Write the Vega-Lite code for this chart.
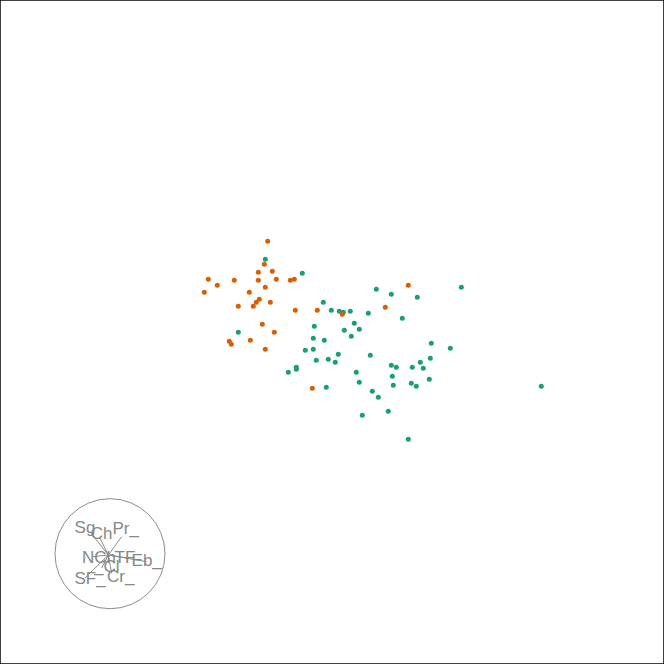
{
  "$schema": "https://vega.github.io/schema/vega-lite/v6.json",
  "width": 664,
  "height": 664,
  "autosize": {"type": "fit", "contains": "padding"},
  "padding": 0,
  "background": "white",
  "config": {"view": {"stroke": "black", "strokeWidth": 1.5}},
  "datasets": {
    "pts": [
      {"x": 265.3, "y": 404.7, "g": "B"},
      {"x": 302.3, "y": 390.7, "g": "B"},
      {"x": 238.3, "y": 331.7, "g": "B"},
      {"x": 376.3, "y": 374.7, "g": "B"},
      {"x": 391.3, "y": 369.7, "g": "B"},
      {"x": 417.3, "y": 366.7, "g": "B"},
      {"x": 461.3, "y": 376.7, "g": "B"},
      {"x": 323.3, "y": 361.7, "g": "B"},
      {"x": 331.3, "y": 353.7, "g": "B"},
      {"x": 339.3, "y": 352.7, "g": "B"},
      {"x": 343.3, "y": 351.7, "g": "B"},
      {"x": 350.3, "y": 352.7, "g": "B"},
      {"x": 368.3, "y": 350.7, "g": "B"},
      {"x": 402.3, "y": 345.7, "g": "B"},
      {"x": 314.3, "y": 337.7, "g": "B"},
      {"x": 354.3, "y": 340.7, "g": "B"},
      {"x": 344.3, "y": 333.7, "g": "B"},
      {"x": 359.3, "y": 334.7, "g": "B"},
      {"x": 351.3, "y": 327.7, "g": "B"},
      {"x": 313.3, "y": 325.7, "g": "B"},
      {"x": 324.3, "y": 323.7, "g": "B"},
      {"x": 431.3, "y": 320.7, "g": "B"},
      {"x": 450.3, "y": 315.7, "g": "B"},
      {"x": 305.3, "y": 313.7, "g": "B"},
      {"x": 313.3, "y": 314.7, "g": "B"},
      {"x": 338.3, "y": 309.7, "g": "B"},
      {"x": 370.3, "y": 308.7, "g": "B"},
      {"x": 430.3, "y": 305.7, "g": "B"},
      {"x": 316.3, "y": 303.7, "g": "B"},
      {"x": 328.3, "y": 304.7, "g": "B"},
      {"x": 335.3, "y": 301.7, "g": "B"},
      {"x": 420.3, "y": 301.7, "g": "B"},
      {"x": 391.3, "y": 298.7, "g": "B"},
      {"x": 396.3, "y": 296.7, "g": "B"},
      {"x": 412.3, "y": 296.7, "g": "B"},
      {"x": 423.3, "y": 295.7, "g": "B"},
      {"x": 288.3, "y": 291.7, "g": "B"},
      {"x": 296.3, "y": 296.7, "g": "B"},
      {"x": 296.3, "y": 294.7, "g": "B"},
      {"x": 356.3, "y": 291.7, "g": "B"},
      {"x": 392.3, "y": 287.7, "g": "B"},
      {"x": 429.3, "y": 284.7, "g": "B"},
      {"x": 359.3, "y": 281.7, "g": "B"},
      {"x": 393.3, "y": 278.7, "g": "B"},
      {"x": 411.3, "y": 280.7, "g": "B"},
      {"x": 416.3, "y": 277.7, "g": "B"},
      {"x": 541.3, "y": 277.7, "g": "B"},
      {"x": 326.3, "y": 276.7, "g": "B"},
      {"x": 372.3, "y": 272.7, "g": "B"},
      {"x": 378.3, "y": 266.7, "g": "B"},
      {"x": 388.3, "y": 252.7, "g": "B"},
      {"x": 362.3, "y": 248.7, "g": "B"},
      {"x": 408.3, "y": 224.7, "g": "B"},
      {"x": 267.7, "y": 422.7, "g": "A"},
      {"x": 264.3, "y": 399.7, "g": "A"},
      {"x": 258.3, "y": 391.7, "g": "A"},
      {"x": 272.3, "y": 392.7, "g": "A"},
      {"x": 208.3, "y": 384.7, "g": "A"},
      {"x": 217.3, "y": 378.7, "g": "A"},
      {"x": 234.3, "y": 383.7, "g": "A"},
      {"x": 258.3, "y": 383.7, "g": "A"},
      {"x": 276.3, "y": 384.7, "g": "A"},
      {"x": 290.3, "y": 383.7, "g": "A"},
      {"x": 294.3, "y": 384.7, "g": "A"},
      {"x": 204.3, "y": 371.7, "g": "A"},
      {"x": 249.3, "y": 371.7, "g": "A"},
      {"x": 265.3, "y": 376.7, "g": "A"},
      {"x": 259.3, "y": 364.7, "g": "A"},
      {"x": 256.3, "y": 361.7, "g": "A"},
      {"x": 253.3, "y": 357.7, "g": "A"},
      {"x": 270.3, "y": 361.7, "g": "A"},
      {"x": 238.3, "y": 357.7, "g": "A"},
      {"x": 295.3, "y": 353.7, "g": "A"},
      {"x": 317.3, "y": 353.7, "g": "A"},
      {"x": 342.3, "y": 349.7, "g": "A"},
      {"x": 262.3, "y": 339.7, "g": "A"},
      {"x": 274.3, "y": 331.7, "g": "A"},
      {"x": 250.3, "y": 323.7, "g": "A"},
      {"x": 229.3, "y": 322.7, "g": "A"},
      {"x": 231.3, "y": 319.7, "g": "A"},
      {"x": 265.3, "y": 314.7, "g": "A"},
      {"x": 312.3, "y": 275.7, "g": "A"},
      {"x": 408.3, "y": 378.7, "g": "A"},
      {"x": 385.3, "y": 356.7, "g": "A"}
    ],
    "circle": [{"x": 110, "y": 110.3}],
    "axes": [
      {"x": 108.3, "y": 109, "x2": 90, "y2": 132.3},
      {"x": 108.3, "y": 109, "x2": 100, "y2": 126},
      {"x": 108.3, "y": 109, "x2": 121.7, "y2": 127.3},
      {"x": 108.3, "y": 109, "x2": 146.7, "y2": 102.3},
      {"x": 108.3, "y": 109, "x2": 128, "y2": 106},
      {"x": 108.3, "y": 109, "x2": 85, "y2": 86},
      {"x": 108.3, "y": 109, "x2": 111.7, "y2": 90.7},
      {"x": 108.3, "y": 109, "x2": 93, "y2": 107.3},
      {"x": 108.3, "y": 109, "x2": 101.7, "y2": 96}
    ],
    "labels": [
      {"x": 85, "y": 136, "t": "Sg"},
      {"x": 101.7, "y": 130, "t": "Ch"},
      {"x": 125.7, "y": 135, "t": "Pr_"},
      {"x": 99, "y": 106, "t": "NCh"},
      {"x": 125, "y": 106.3, "t": "TF"},
      {"x": 146.7, "y": 103.3, "t": "Eb_"},
      {"x": 106.7, "y": 97, "t": "_Cl"},
      {"x": 90, "y": 85, "t": "SF_"},
      {"x": 120.7, "y": 87, "t": "Cr_"}
    ]
  },
  "layer": [
    {
      "data": {"name": "circle"},
      "mark": {"type": "point", "shape": "circle", "filled": false, "size": 12100, "stroke": "#8c8c8c", "strokeWidth": 1, "opacity": 1},
      "encoding": {
        "x": {"field": "x", "type": "quantitative", "scale": {"domain": [0, 664], "nice": false, "zero": false}, "axis": null},
        "y": {"field": "y", "type": "quantitative", "scale": {"domain": [0, 664], "nice": false, "zero": false}, "axis": null}
      }
    },
    {
      "data": {"name": "axes"},
      "mark": {"type": "rule", "stroke": "#8c8c8c", "strokeWidth": 1},
      "encoding": {
        "x": {"field": "x", "type": "quantitative", "scale": {"domain": [0, 664], "nice": false, "zero": false}, "axis": null},
        "y": {"field": "y", "type": "quantitative", "scale": {"domain": [0, 664], "nice": false, "zero": false}, "axis": null},
        "x2": {"field": "x2"},
        "y2": {"field": "y2"}
      }
    },
    {
      "data": {"name": "labels"},
      "mark": {"type": "text", "font": "Liberation Sans", "fontSize": 17, "fill": "#888888", "align": "center", "baseline": "middle"},
      "encoding": {
        "x": {"field": "x", "type": "quantitative", "scale": {"domain": [0, 664], "nice": false, "zero": false}, "axis": null},
        "y": {"field": "y", "type": "quantitative", "scale": {"domain": [0, 664], "nice": false, "zero": false}, "axis": null},
        "text": {"field": "t", "type": "nominal"}
      }
    },
    {
      "data": {"name": "pts"},
      "mark": {"type": "circle", "size": 25, "opacity": 1},
      "encoding": {
        "x": {"field": "x", "type": "quantitative", "scale": {"domain": [0, 664], "nice": false, "zero": false}, "axis": null},
        "y": {"field": "y", "type": "quantitative", "scale": {"domain": [0, 664], "nice": false, "zero": false}, "axis": null},
        "color": {"field": "g", "type": "nominal", "scale": {"domain": ["A", "B"], "range": ["#D95F02", "#1B9E77"]}, "legend": null}
      }
    }
  ]
}
